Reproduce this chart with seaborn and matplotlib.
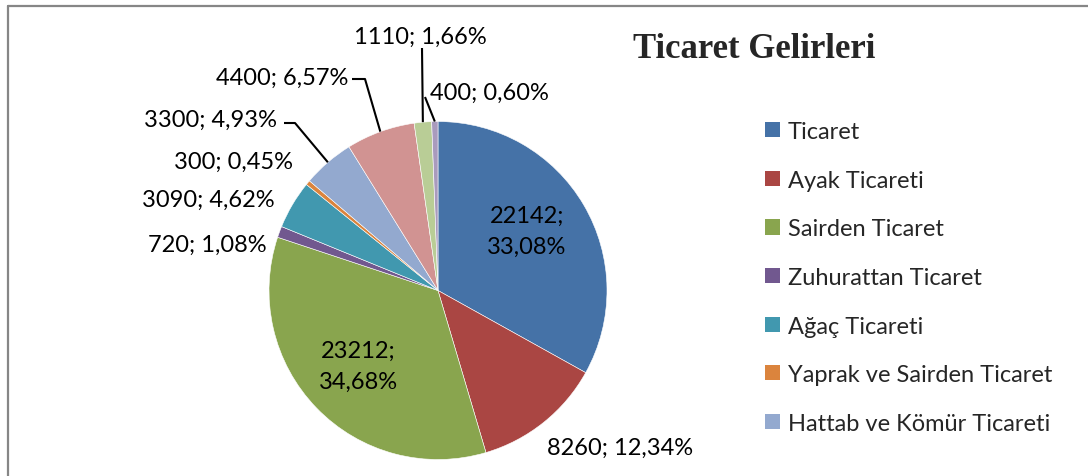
import numpy as np
import seaborn as sns
import matplotlib
matplotlib.use('Agg')
import matplotlib.pyplot as plt
from matplotlib.patches import Patch
from matplotlib.lines import Line2D

# data
categories = ['Ticaret', 'Ayak Ticareti', 'Sairden Ticaret', 'Zuhurattan Ticaret',
              'Ağaç Ticareti', 'Yaprak ve Sairden Ticaret', 'Hattab ve Kömür Ticareti',
              '', '', '']
values = [22142, 8260, 23212, 720, 3090, 300, 3300, 4400, 1110, 400]
legend_count = 7  # only the first seven entries are visible in the legend
colors = ['#4572A7', '#AA4643', '#89A54E', '#71588F', '#4198AF',
          '#DB843D', '#93A9CF', '#D19392', '#B9CD96', '#A99BBD']
title = 'Ticaret Gelirleri'

W, H = 1088, 477
CX, CY, R = 438, 291.5, 169.0


def px(x, y):
    # pixel position -> pie data coordinates
    return (x - CX) / R, (CY - y) / R


sns.set_theme(style='white')
plt.rcParams['font.family'] = ['Lato', 'DejaVu Sans']

fig = plt.figure(figsize=(W / 100, H / 100), dpi=100)
ax = fig.add_axes([0, 0, 1, 1])

wedges, _ = ax.pie(values, colors=colors, startangle=90, counterclock=False,
                   radius=1, center=(0, 0),
                   wedgeprops=dict(edgecolor='white', linewidth=0.4))
ax.set_aspect('auto')
ax.set_xlim(-CX / R, (W - CX) / R)
ax.set_ylim(-(H - CY) / R, CY / R)
ax.axis('off')

total = sum(values)


def fmt(v, sep='; '):
    pct = ('%.2f' % (v / total * 100)).replace('.', ',')
    return '%d%s%s%%' % (v, sep, pct)


fs = 17
# inside labels (two lines)
inside = {0: (527, 232), 2: (358, 367)}
for i, (x, y) in inside.items():
    ax.text(*px(x, y), fmt(values[i], ';\n'), ha='center', va='center',
            fontsize=fs, linespacing=1.56, color='black')

# outside labels: text anchor, alignment, leader line points (pixels)
outside = {
    1: ((547, 448), 'left', None),
    3: ((267, 245), 'right', None),
    4: ((275, 200), 'right', None),
    5: ((293, 162), 'right', None),
    6: ((277, 120), 'right', [(295, 124), (284, 124)]),
    7: ((348, 78), 'right', [(365, 80), (352, 80)]),
    8: ((420, 37), 'center', [(422, 49)]),
    9: ((430, 93), 'left', [(425, 98)]),
}
for i, ((x, y), ha, leader) in outside.items():
    ax.text(*px(x, y), fmt(values[i]), ha=ha, va='center', fontsize=fs, color='black')
    if leader:
        w = wedges[i]
        mid = np.deg2rad((w.theta1 + w.theta2) / 2)
        pts = [(np.cos(mid), np.sin(mid))] + [px(a, b) for a, b in leader]
        xs, ys = zip(*pts)
        ax.plot(xs, ys, color='black', lw=1.5, solid_capstyle='butt')

fig.text(754 / W, 1 - 50 / H, title, ha='center', va='center',
         fontsize=25, fontweight='bold', family=['Liberation Serif', 'DejaVu Serif'])

handles = [Patch(facecolor=colors[i], edgecolor='none') for i in range(legend_count)]
fig.legend(handles, categories[:legend_count], loc='upper left',
           bbox_to_anchor=(765 / W, 1 - 122 / H), frameon=False, fontsize=fs,
           handlelength=0.62, handleheight=0.62, handletextpad=0.35,
           labelspacing=1.17, borderpad=0, borderaxespad=0)

# chart frame (partly cropped in the original)
fig.add_artist(Line2D([8 / W, 8 / W], [0, 1 - 7 / H], transform=fig.transFigure,
                      color='#868686', lw=1.6))
fig.add_artist(Line2D([8 / W, 1], [1 - 7 / H, 1 - 7 / H], transform=fig.transFigure,
                      color='#868686', lw=1.6))

fig.savefig('out.png', dpi=100, facecolor='white')
